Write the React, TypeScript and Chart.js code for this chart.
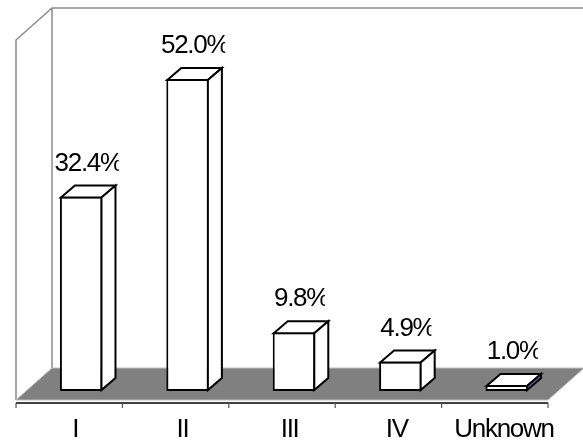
import React, { useEffect, useRef } from "react";
import { Chart, registerables } from "chart.js";

Chart.register(...registerables);

const categories = ["I", "II", "III", "IV", "Unknown"];
const percentages = [32.4, 52.0, 9.8, 4.9, 1.0];
const valueLabels = ["32.4%", "52.0%", "9.8%", "4.9%", "1.0%"];
const axisMin = 0;
const axisMax = 60;

const sideColors = ["#ffffff", "#ffffff", "#ffffff", "#ffffff", "#6b6bb8"];

const FRONT = { x: -12, y: 9 };
const BACK = { x: 24, y: -23 };
const BAR_DEPTH = { x: 14, y: -12 };
const FONT = '26px "Liberation Sans", Arial, sans-serif';
const SPACING = "-1.3px";

const threeD = {
  id: "threeD",
  beforeDatasetsDraw(chart: any) {
    const { ctx, chartArea } = chart;
    const { left, right } = chartArea;
    const ys = chart.scales.y;
    const y0 = ys.getPixelForValue(axisMin);
    const yM = ys.getPixelForValue(axisMax);
    const fL = left + FRONT.x, fR = right + FRONT.x, fB = y0 + FRONT.y, fT = yM + FRONT.y;
    const bL = left + BACK.x, bR = right + BACK.x, bB = y0 + BACK.y, bT = yM + BACK.y;
    ctx.save();
    // back wall
    ctx.fillStyle = "#ffffff";
    ctx.fillRect(bL, bT, bR - bL, bB - bT);
    // left wall
    ctx.beginPath();
    ctx.moveTo(fL, fB);
    ctx.lineTo(fL, fT);
    ctx.lineTo(bL, bT);
    ctx.lineTo(bL, bB);
    ctx.closePath();
    ctx.fill();
    ctx.strokeStyle = "#8c8c8c";
    ctx.lineWidth = 1.5;
    ctx.beginPath();
    ctx.moveTo(fL, fB);
    ctx.lineTo(fL, fT);
    ctx.lineTo(bL, bT);
    ctx.lineTo(bR + 10, bT);
    ctx.moveTo(bL, bT);
    ctx.lineTo(bL, bB);
    ctx.stroke();
    // floor
    ctx.beginPath();
    ctx.moveTo(fL, fB);
    ctx.lineTo(bL, bB);
    ctx.lineTo(bR, bB);
    ctx.lineTo(fR, fB);
    ctx.closePath();
    ctx.fillStyle = "#808080";
    ctx.fill();
    ctx.strokeStyle = "#bdbdbd";
    ctx.lineWidth = 1;
    ctx.stroke();
    // axis line
    const ax = fB + 3;
    ctx.strokeStyle = "#000000";
    ctx.lineWidth = 1.5;
    ctx.beginPath();
    ctx.moveTo(fL, ax);
    ctx.lineTo(fR, ax);
    ctx.stroke();
    const n = categories.length;
    const w = (right - left) / n;
    ctx.strokeStyle = "#555555";
    ctx.lineWidth = 1.2;
    for (let i = 0; i <= n; i++) {
      const x = fL + i * w;
      ctx.beginPath();
      ctx.moveTo(x, ax);
      ctx.lineTo(x, ax + 5);
      ctx.stroke();
    }
    // category labels
    ctx.fillStyle = "#000000";
    ctx.font = FONT;
    (ctx as any).letterSpacing = SPACING;
    ctx.textAlign = "center";
    ctx.textBaseline = "alphabetic";
    const xs = chart.scales.x;
    categories.forEach((c, i) => {
      const x = xs.getPixelForValue(i) - 6 + i * 0.8;
      ctx.fillText(c, x, fB + 37);
    });
    ctx.restore();
  },
  afterDatasetsDraw(chart: any) {
    const { ctx } = chart;
    const meta = chart.getDatasetMeta(0);
    ctx.save();
    ctx.strokeStyle = "#000000";
    ctx.lineWidth = 2;
    ctx.lineJoin = "miter";
    meta.data.forEach((el: any, i: number) => {
      const x0 = el.x - el.width / 2 + 1;
      const x1 = el.x + el.width / 2 - 1;
      const yt = el.y + 1;
      const yb = el.base - 1;
      // top face
      ctx.beginPath();
      ctx.moveTo(x0, yt);
      ctx.lineTo(x0 + BAR_DEPTH.x, yt + BAR_DEPTH.y);
      ctx.lineTo(x1 + BAR_DEPTH.x, yt + BAR_DEPTH.y);
      ctx.lineTo(x1, yt);
      ctx.closePath();
      ctx.fillStyle = "#ffffff";
      ctx.fill();
      ctx.stroke();
      // side face
      ctx.beginPath();
      ctx.moveTo(x1, yt);
      ctx.lineTo(x1 + BAR_DEPTH.x, yt + BAR_DEPTH.y);
      ctx.lineTo(x1 + BAR_DEPTH.x, yb + BAR_DEPTH.y);
      ctx.lineTo(x1, yb);
      ctx.closePath();
      ctx.fillStyle = sideColors[i];
      ctx.fill();
      ctx.stroke();
      // value label (right edge slightly clipped, as in the original)
      ctx.save();
      ctx.fillStyle = "#000000";
      ctx.font = FONT;
      (ctx as any).letterSpacing = SPACING;
      ctx.textAlign = "center";
      ctx.textBaseline = "alphabetic";
      const cx = el.x + BAR_DEPTH.x / 2;
      const by = el.y - 26;
      const tw = ctx.measureText(valueLabels[i]).width;
      ctx.beginPath();
      ctx.rect(cx - tw / 2 - 4, by - 30, tw + 4 - 3, 40);
      ctx.clip();
      ctx.fillText(valueLabels[i], cx, by);
      ctx.restore();
    });
    ctx.restore();
  },
};

export default function App() {
  const ref = useRef<HTMLCanvasElement | null>(null);
  useEffect(() => {
    if (!ref.current) return;
    const chart = new Chart(ref.current, {
      type: "bar",
      data: {
        labels: categories,
        datasets: [
          {
            data: percentages,
            backgroundColor: "#ffffff",
            borderColor: "#000000",
            borderWidth: 2,
            borderSkipped: false,
            categoryPercentage: 1,
            barPercentage: 0.4,
          },
        ],
      },
      options: {
        responsive: false,
        animation: false,
        events: [],
        layout: { padding: { left: 28, right: 23, top: 31, bottom: 52 } },
        plugins: { legend: { display: false }, tooltip: { enabled: false } },
        scales: {
          x: { display: false },
          y: { display: false, min: axisMin, max: axisMax },
        },
      },
      plugins: [threeD],
    });
    return () => chart.destroy();
  }, []);
  return (
    <div style={{ position: "absolute", left: 0, top: 0, width: 583, height: 443, background: "#fff" }}>
      <canvas ref={ref} width={583} height={443} style={{ display: "block" }} />
    </div>
  );
}
